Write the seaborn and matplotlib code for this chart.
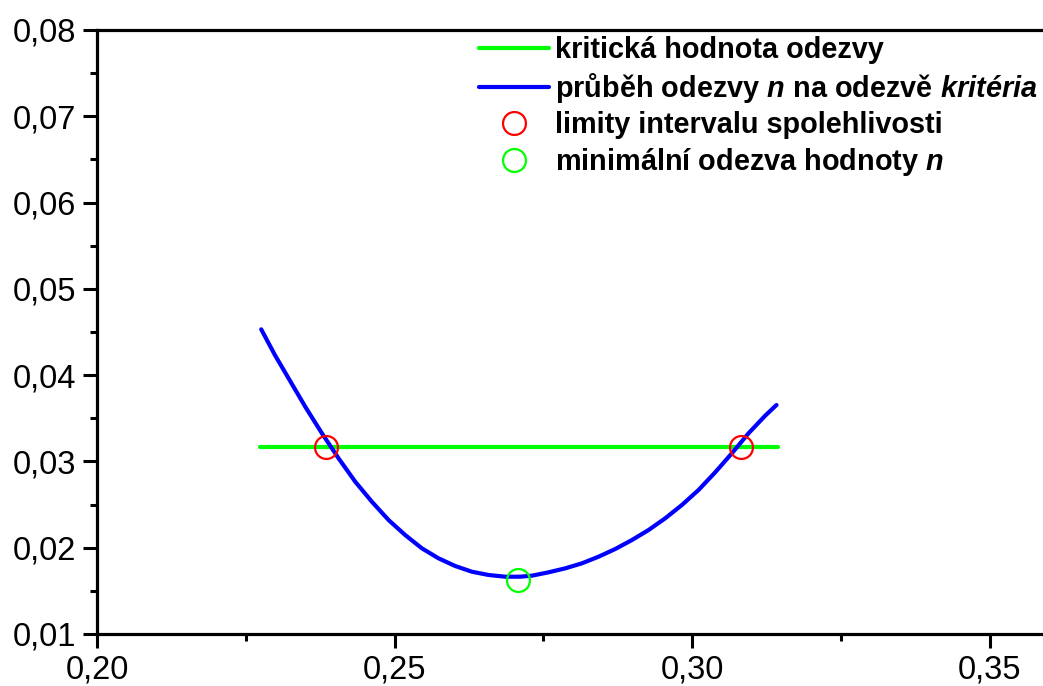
import numpy as np
import pandas as pd
import matplotlib
matplotlib.use("Agg")
import matplotlib.pyplot as plt
import seaborn as sns
from matplotlib.ticker import MultipleLocator, FuncFormatter

# data
krivka_x = [0.2276, 0.2299, 0.2322, 0.2350, 0.2378, 0.2406, 0.2434, 0.2462, 0.2490,
            0.2518, 0.2546, 0.2574, 0.2602, 0.2630, 0.2658, 0.2686, 0.2711, 0.2731,
            0.2759, 0.2787, 0.2815, 0.2843, 0.2871, 0.2899, 0.2927, 0.2955, 0.2983,
            0.3011, 0.3039, 0.3067, 0.3095, 0.3123, 0.3142]
krivka_y = [0.04531, 0.04233, 0.03963, 0.03634, 0.03326, 0.03036, 0.02765, 0.02533, 0.02321,
            0.02147, 0.01993, 0.01877, 0.01788, 0.01722, 0.01684, 0.01664, 0.01664, 0.01676,
            0.01715, 0.01761, 0.01819, 0.01896, 0.01985, 0.02089, 0.02205, 0.02341, 0.02495,
            0.02669, 0.02874, 0.03094, 0.03326, 0.03530, 0.03654]
kriticka_x = [0.2274, 0.3145]
kriticka_y = [0.0317, 0.0317]
limity_x = [0.2385, 0.3082]
limity_y = [0.0317, 0.0317]
minimum_x = [0.2708]
minimum_y = [0.0163]

popisky = ["kritická hodnota odezvy",
           r"průběh odezvy $\mathbfit{n}$ na odezvě $\mathbfit{kritéria}$",
           "limity intervalu spolehlivosti",
           r"minimální odezva hodnoty $\mathbfit{n}$"]

sns.set_style("ticks")
plt.rcParams["font.family"] = ["Liberation Sans", "DejaVu Sans"]
plt.rcParams["mathtext.fontset"] = "custom"
plt.rcParams["mathtext.bfit"] = "Liberation Sans:italic:bold"
plt.rcParams["mathtext.it"] = "Liberation Sans:italic:bold"
plt.rcParams["text.color"] = "black"
plt.rcParams["xtick.color"] = "black"
plt.rcParams["ytick.color"] = "black"
plt.rcParams["axes.edgecolor"] = "black"

fig = plt.figure(figsize=(10.43, 6.86), dpi=100)
ax = fig.add_axes([97 / 1043, 52 / 686, 952 / 1043, 604 / 686])

df_kriv = pd.DataFrame({"x": krivka_x, "y": krivka_y})
df_krit = pd.DataFrame({"x": kriticka_x, "y": kriticka_y})

sns.lineplot(data=df_krit, x="x", y="y", color="#00ff00", lw=3, ax=ax,
             label=popisky[0], solid_capstyle="round", zorder=2)
sns.lineplot(data=df_kriv, x="x", y="y", color="#0000ff", lw=3, ax=ax,
             label=popisky[1], solid_capstyle="round", zorder=3, sort=False)
ax.plot(limity_x, limity_y, ls="none", marker="o", ms=16.5, mfc="none",
        mec="#ff0000", mew=1.6, label=popisky[2], zorder=4)
ax.plot(minimum_x, minimum_y, ls="none", marker="o", ms=16.5, mfc="none",
        mec="#00ff00", mew=1.6, label=popisky[3], zorder=4)

ax.set_xlim(0.20, 0.36)
ax.set_ylim(0.01, 0.08)
ax.set_xlabel("")
ax.set_ylabel("")

ax.xaxis.set_major_locator(MultipleLocator(0.05))
ax.xaxis.set_minor_locator(MultipleLocator(0.025))
ax.yaxis.set_major_locator(MultipleLocator(0.01))
ax.yaxis.set_minor_locator(MultipleLocator(0.005))
fmt = FuncFormatter(lambda v, p: f"{v:.2f}".replace(".", ","))
ax.xaxis.set_major_formatter(fmt)
ax.yaxis.set_major_formatter(fmt)

ax.tick_params(which="major", direction="out", length=10, width=2.2, labelsize=23.5, pad=5)
ax.tick_params(which="minor", direction="out", length=5, width=2.2)
ax.tick_params(top=False, right=False, which="both")

for s in ["left", "bottom", "top"]:
    ax.spines[s].set_linewidth(2.3)
ax.spines["right"].set_visible(False)

ax.legend(loc="upper left", bbox_to_anchor=(479 / 1043, 1 - 36 / 686),
          bbox_transform=fig.transFigure, frameon=False, borderpad=0,
          borderaxespad=0, handlelength=2.42, handletextpad=0.2, labelspacing=0.23,
          prop={"weight": "bold", "size": 20.8})

fig.savefig("out.png", dpi=100)
